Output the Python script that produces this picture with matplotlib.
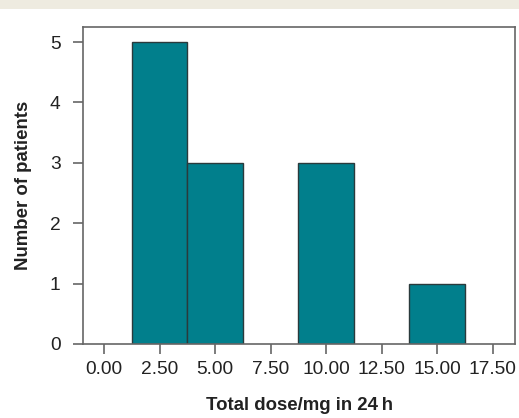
import matplotlib
matplotlib.use("Agg")
import matplotlib.pyplot as plt
from matplotlib.patches import Rectangle
import numpy as np

bin_edges = [1.25, 3.75, 6.25, 8.75, 11.25, 13.75, 16.25]
counts = [5, 3, 0, 3, 0, 1]
x_ticks = [0.0, 2.5, 5.0, 7.5, 10.0, 12.5, 15.0, 17.5]
x_tick_labels = ["0.00", "2.50", "5.00", "7.50", "10.00", "12.50", "15.00", "17.50"]
y_ticks = [0, 1, 2, 3, 4, 5]
x_label = "Total dose/mg in 24\u2009h"
y_label = "Number of patients"

plt.rcParams['font.family'] = ['Liberation Sans', 'DejaVu Sans']

fig = plt.figure(figsize=(5.19, 4.18), dpi=100)
fig.patches.append(Rectangle((0, 1 - 9 / 418), 1, 9 / 418, transform=fig.transFigure,
                             facecolor="#EEEBE0", edgecolor="none", zorder=0))
ax = fig.add_axes([83 / 519, 1 - 344 / 418, (515 - 83) / 519, (344 - 27) / 418])

edges = np.array(bin_edges)
lefts = edges[:-1]
widths = np.diff(edges)
for l, w, c in zip(lefts, widths, counts):
    if c > 0:
        ax.bar(l, c, width=w, align="edge", color="#017F8C", edgecolor="#2a3a3c", linewidth=1.0)

ax.set_xlim(-0.95, 18.5)
ax.set_ylim(0, 5.25)
ax.set_xticks(x_ticks)
ax.set_xticklabels(x_tick_labels)
ax.set_yticks(y_ticks)

for s in ax.spines.values():
    s.set_color("#666666")
    s.set_linewidth(1.2)

ax.tick_params(axis="x", length=7, width=1.2, color="#666666", pad=5, labelsize=13.8, labelcolor="#222222")
ax.tick_params(axis="y", length=7.2, width=1.2, color="#666666", pad=9, labelsize=13.8, labelcolor="#222222")

ax.set_xlabel(x_label, fontsize=13.4, fontweight="bold", color="#222222", labelpad=14)
ax.set_ylabel(y_label, fontsize=13.4, fontweight="bold", color="#222222", labelpad=13)

fig.savefig("out.png", dpi=100)
